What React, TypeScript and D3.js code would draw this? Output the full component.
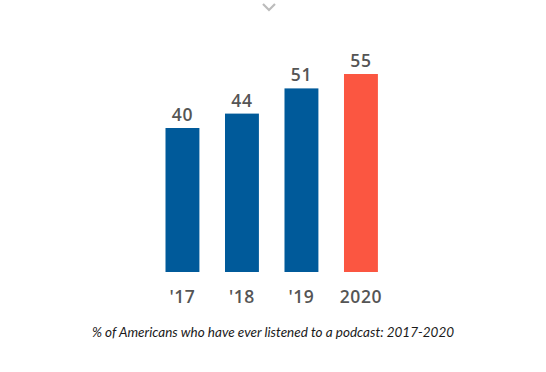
import React, { useRef, useEffect } from "react";
import * as d3 from "d3";

const years = ["'17", "'18", "'19", "2020"];
const shares = [40, 44, 51, 55];
const caption = "% of Americans who have ever listened to a podcast: 2017-2020";

const W = 546;
const H = 372;

export default function App() {
  const svgRef = useRef<SVGSVGElement>(null);

  useEffect(() => {
    const svg = d3.select(svgRef.current);
    svg.selectAll("*").remove();

    const x = d3.scaleBand().domain(years).range([153.6, 389.8]).paddingInner(0.43).paddingOuter(0.2);
    const y = d3.scaleLinear().domain([0, 55]).range([272, 74]);

    // little chevron at top
    svg.append("path")
      .attr("d", "M263,4 L269,10 L275,4")
      .attr("fill", "none")
      .attr("stroke", "#bcbcbc")
      .attr("stroke-width", 2.2);

    const g = svg.append("g");
    g.selectAll("rect").data(shares).enter().append("rect")
      .attr("x", (d, i) => x(years[i])!)
      .attr("y", d => y(d))
      .attr("width", x.bandwidth())
      .attr("height", d => y(0) - y(d))
      .attr("fill", (d, i) => (i === years.length - 1 ? "#fb5641" : "#005a9a"));

    g.selectAll(".val").data(shares).enter().append("text")
      .attr("class", "val")
      .attr("x", (d, i) => x(years[i])! + x.bandwidth() / 2)
      .attr("y", d => y(d) - 7)
      .attr("text-anchor", "middle")
      .attr("font-family", "'Open Sans', sans-serif")
      .attr("font-weight", 600)
      .attr("font-size", 17.5)
      .attr("letter-spacing", 0.6)
      .attr("fill", "#555")
      .text(d => d);

    g.selectAll(".yr").data(years).enter().append("text")
      .attr("class", "yr")
      .attr("x", d => x(d)! + x.bandwidth() / 2)
      .attr("y", 303)
      .attr("text-anchor", "middle")
      .attr("font-family", "'Open Sans', sans-serif")
      .attr("font-weight", 600)
      .attr("font-size", 17.5)
      .attr("letter-spacing", 0.6)
      .attr("fill", "#555")
      .text(d => d);

    svg.append("text")
      .attr("x", 273)
      .attr("y", 337)
      .attr("text-anchor", "middle")
      .attr("font-family", "Lato, sans-serif")
      .attr("font-style", "italic")
      .attr("font-size", 13.5)
      .attr("fill", "#1a1a1a")
      .text(caption);
  }, []);

  return (
    <div style={{ position: "absolute", left: 0, top: 0, width: W, height: H, background: "#fff" }}>
      <svg ref={svgRef} width={W} height={H}></svg>
    </div>
  );
}
